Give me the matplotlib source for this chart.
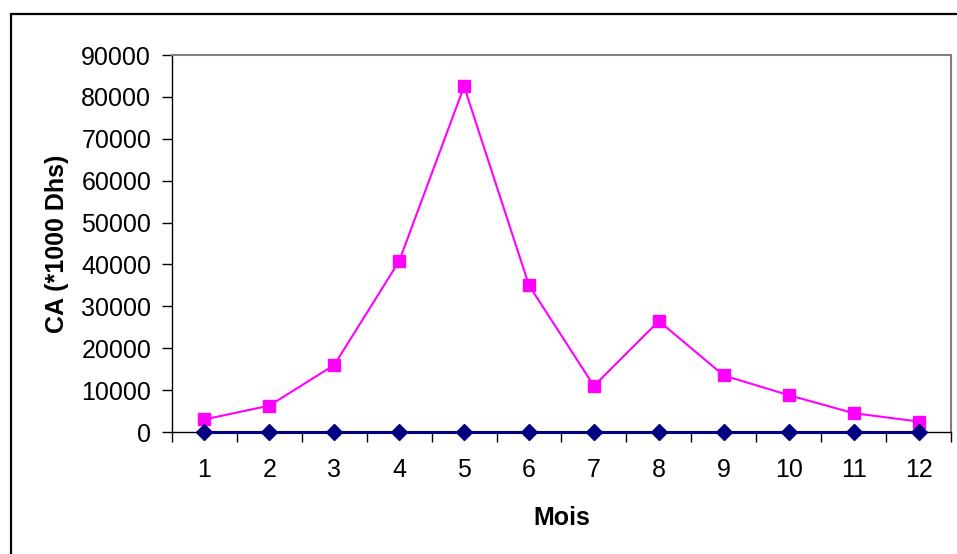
import matplotlib
matplotlib.use("Agg")
import matplotlib.pyplot as plt
from matplotlib.patches import Rectangle
from matplotlib.ticker import FixedLocator, MultipleLocator

plt.rcParams["font.family"] = ["Liberation Sans", "DejaVu Sans"]

MAGENTA = "#FF00FF"
NAVY = "#000080"

mois = [1, 2, 3, 4, 5, 6, 7, 8, 9, 10, 11, 12]
ca = [3000, 6300, 16000, 40800, 82500, 35000, 11000, 26500, 13500, 8800, 4500, 2500]
zero_serie = [0] * 12

fig = plt.figure(figsize=(9.57, 5.54), dpi=100, facecolor="white")
ax = fig.add_axes([0.1797, 0.2202, 0.8140, 0.6805])

ax.plot(mois, ca, color=MAGENTA, lw=1.5, marker="s", markersize=8,
        markeredgecolor=MAGENTA, zorder=3, clip_on=False)
ax.plot(mois, zero_serie, color=NAVY, lw=2.2, marker="D", markersize=8,
        markeredgecolor=NAVY, zorder=4, clip_on=False)

ax.set_xlim(0.5, 12.5)
ax.set_ylim(0, 90000)
ax.yaxis.set_major_locator(MultipleLocator(10000))
ax.set_xticks(mois)
ax.set_xticklabels([str(m) for m in mois])
ax.xaxis.set_minor_locator(FixedLocator([m + 0.5 for m in range(0, 13)]))
ax.tick_params(axis="x", which="major", length=0, pad=19, labelsize=18)
ax.tick_params(axis="x", which="minor", length=7, width=1, direction="out")
ax.tick_params(axis="y", length=7, width=1, direction="out", pad=8, labelsize=18)

for side in ("top", "right"):
    ax.spines[side].set_color("#808080")
    ax.spines[side].set_linewidth(1.5)
for side in ("left", "bottom"):
    ax.spines[side].set_color("black")
    ax.spines[side].set_linewidth(1)

ax.set_xlabel("Mois", fontsize=18, fontweight="bold", labelpad=17)
ax.set_ylabel("CA (*1000 Dhs)", fontsize=18, fontweight="bold", labelpad=9)

# outer chart border (extends past the right and bottom edges)
fig.patches.append(Rectangle((11 / 957, -0.1), 1.1, 1.1 - 14 / 554,
                             transform=fig.transFigure, fill=False,
                             edgecolor="black", linewidth=1.6))

fig.savefig("out.png", dpi=100, facecolor="white")
